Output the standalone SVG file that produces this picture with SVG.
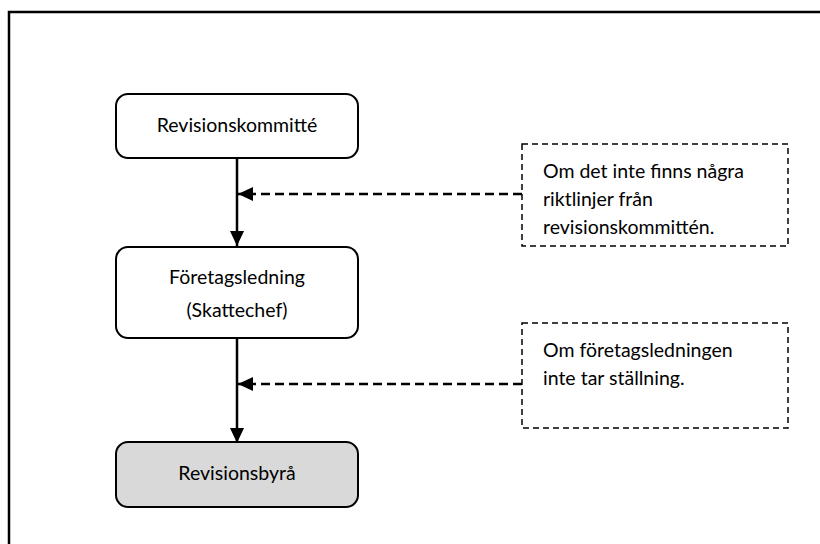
<svg xmlns="http://www.w3.org/2000/svg" width="820" height="544" viewBox="0 0 820 544">
<style>
.box{fill:#fff;stroke:#000;stroke-width:2}
.grey{fill:#d9d9d9}
.note{fill:#fff;stroke:#000;stroke-width:1.5;stroke-dasharray:6 4}
.t{font-family:Lato,"Open Sans","Liberation Sans",sans-serif;font-size:19.5px;fill:#000}
.c{text-anchor:middle}
.solid{stroke:#000;stroke-width:2.5;fill:none}
.dash{stroke:#000;stroke-width:2.5;fill:none;stroke-dasharray:9 5}
</style>
<defs>
<marker id="ah" markerUnits="userSpaceOnUse" markerWidth="16" markerHeight="14" refX="15" refY="7" orient="auto">
<path d="M0,0 L15,7 L0,14 Z" fill="#000"/>
</marker>
</defs>
<rect width="820" height="544" fill="#fff"/>
<g id="frame">
<path d="M9,544 V12 H820" fill="none" stroke="#000" stroke-width="2.5"/>
</g>
<g id="connectors">
<line class="solid" x1="237" y1="158" x2="237" y2="246" marker-end="url(#ah)"/>
<line class="solid" x1="237" y1="338" x2="237" y2="443" marker-end="url(#ah)"/>
<line class="dash" x1="522" y1="194" x2="238" y2="194" marker-end="url(#ah)"/>
<line class="dash" x1="522" y1="384" x2="238" y2="384" marker-end="url(#ah)"/>
</g>
<g id="n1">
<rect class="box" x="116" y="94" width="242" height="64" rx="12"/>
<text class="t c" x="237" y="132">Revisionskommitté</text>
</g>
<g id="n2">
<rect class="box" x="116" y="247" width="242" height="91" rx="12"/>
<text class="t c" x="237" y="284">Företagsledning</text>
<text class="t c" x="237" y="317">(Skattechef)</text>
</g>
<g id="n3">
<rect class="box grey" x="116" y="442" width="242" height="65" rx="12"/>
<text class="t c" x="237" y="480">Revisionsbyrå</text>
</g>
<g id="note1">
<rect class="note" x="522" y="144" width="266" height="102"/>
<text class="t" x="543" y="178">Om det inte finns några</text>
<text class="t" x="543" y="206">riktlinjer från</text>
<text class="t" x="543" y="234">revisionskommittén.</text>
</g>
<g id="note2">
<rect class="note" x="522" y="323" width="266" height="105"/>
<text class="t" x="543" y="357">Om företagsledningen</text>
<text class="t" x="543" y="385">inte tar ställning.</text>
</g>
</svg>
